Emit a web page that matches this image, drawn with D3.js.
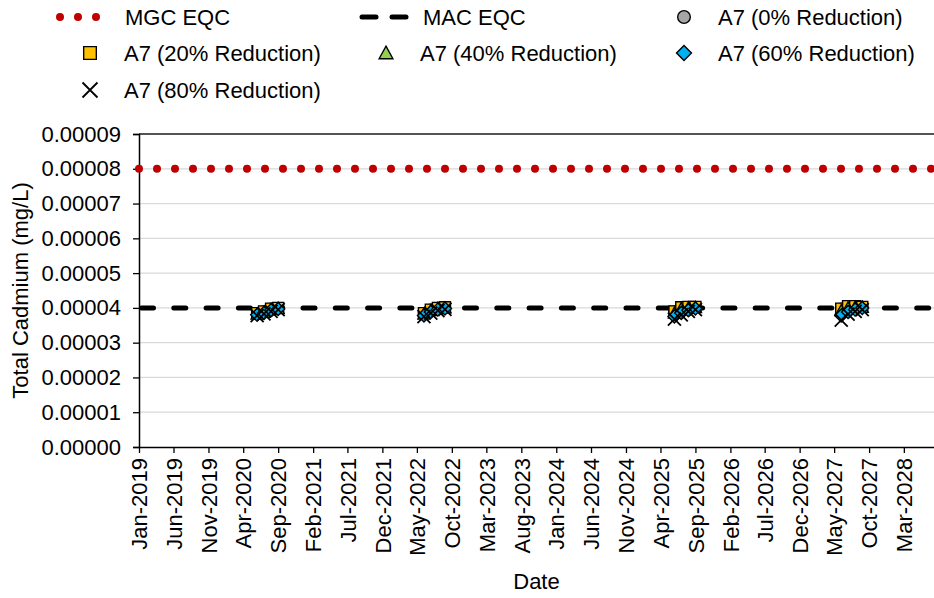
<!DOCTYPE html>
<html><head><meta charset="utf-8">
<script src="https://cdn.jsdelivr.net/npm/d3@7"></script>
<style>
body{margin:0;background:#fff;}
text{font-family:"Liberation Sans",Arial,sans-serif;fill:#000;}
</style></head>
<body><svg id="c" width="934" height="598"></svg>
<script>
// ---- data ----
const sampleDates = [
  "2020-06-01","2020-07-01","2020-08-01","2020-09-01",
  "2022-06-01","2022-07-01","2022-08-01","2022-09-01",
  "2025-06-01","2025-07-01","2025-08-01","2025-09-01",
  "2027-06-01","2027-07-01","2027-08-01","2027-09-01"
];
const red0  = [0.0000385,0.0000390,0.0000398,0.0000400, 0.0000385,0.0000395,0.0000400,0.0000402, 0.0000390,0.0000402,0.0000403,0.0000403, 0.0000398,0.0000405,0.0000405,0.0000403];
const red20 = [0.0000385,0.0000390,0.0000398,0.0000400, 0.0000385,0.0000395,0.0000400,0.0000402, 0.0000390,0.0000402,0.0000403,0.0000403, 0.0000398,0.0000405,0.0000405,0.0000403];
const red40 = [0.0000382,0.0000387,0.0000395,0.0000398, 0.0000382,0.0000392,0.0000398,0.0000400, 0.0000385,0.0000398,0.0000400,0.0000401, 0.0000392,0.0000400,0.0000402,0.0000402];
const red60 = [0.0000380,0.0000385,0.0000393,0.0000397, 0.0000378,0.0000388,0.0000395,0.0000398, 0.0000375,0.0000385,0.0000393,0.0000398, 0.0000378,0.0000388,0.0000395,0.0000400];
const red80 = [0.0000378,0.0000383,0.0000390,0.0000395, 0.0000375,0.0000385,0.0000392,0.0000396, 0.0000368,0.0000380,0.0000390,0.0000395, 0.0000365,0.0000382,0.0000390,0.0000395];
const mgcEqc = 0.00008;
const macEqc = 0.00004;
const yTicks = [0,0.00001,0.00002,0.00003,0.00004,0.00005,0.00006,0.00007,0.00008,0.00009];
const xTickLabels = ["Jan-2019","Jun-2019","Nov-2019","Apr-2020","Sep-2020","Feb-2021","Jul-2021","Dec-2021","May-2022","Oct-2022","Mar-2023","Aug-2023","Jan-2024","Jun-2024","Nov-2024","Apr-2025","Sep-2025","Feb-2026","Jul-2026","Dec-2026","May-2027","Oct-2027","Mar-2028"];
const xDomain = ["2019-01-01","2028-07-11"];
const seriesNames = ["A7 (0% Reduction)","A7 (20% Reduction)","A7 (40% Reduction)","A7 (60% Reduction)","A7 (80% Reduction)"];

// ---- chart ----
const svg = d3.select("#c");
const L=139, R=934, T=134, B=447;
const pd = d3.utcParse("%Y-%m-%d");
const x = d3.scaleUtc().domain(xDomain.map(pd)).range([L,R]);
const y = d3.scaleLinear().domain([0,0.00009]).range([B,T]);
const FS = 22;
const FF = "Liberation Sans, Arial, sans-serif";

// gridlines
svg.append("g").selectAll("line").data(yTicks.slice(1,-1)).join("line")
  .attr("x1",L).attr("x2",R).attr("y1",d=>y(d)).attr("y2",d=>y(d))
  .attr("stroke","#d9d9d9").attr("stroke-width",1.3);
svg.append("line").attr("x1",L).attr("x2",R).attr("y1",y(0.00009)).attr("y2",y(0.00009))
  .attr("stroke","#1a1a1a").attr("stroke-width",1.5);

// y axis
const yAxis = svg.append("g").attr("transform",`translate(${L},0)`)
  .call(d3.axisLeft(y).tickValues(yTicks).tickFormat(d3.format(".5f")).tickSize(6).tickPadding(12));
yAxis.select(".domain").attr("stroke","#000").attr("stroke-width",1.5);
yAxis.selectAll(".tick line").attr("stroke","#000").attr("stroke-width",1.3);
yAxis.selectAll("text").attr("font-size",FS).attr("font-family",FF).attr("fill","#000");

// x axis
const parseTick = d3.utcParse("%b-%Y");
const xTickDates = xTickLabels.map(parseTick);
const xAxis = svg.append("g").attr("transform",`translate(0,${B})`)
  .call(d3.axisBottom(x).tickValues(xTickDates).tickFormat((d,i)=>xTickLabels[i]).tickSize(6).tickSizeOuter(0));
xAxis.select(".domain").attr("stroke","#000").attr("stroke-width",1.5);
xAxis.selectAll(".tick line").attr("stroke","#000").attr("stroke-width",1.3);
xAxis.selectAll("text").attr("font-size",FS).attr("font-family",FF).attr("fill","#000")
  .attr("transform","rotate(-90)").attr("text-anchor","end").attr("dy","0.35em").attr("x",-11).attr("y",0);

// axis titles
svg.append("text").attr("x",(L+R)/2).attr("y",589).attr("text-anchor","middle").attr("font-size",FS).text("Date");
svg.append("text").attr("transform",`translate(28,${(T+B)/2}) rotate(-90)`).attr("text-anchor","middle")
  .attr("font-size",FS).text("Total Cadmium (mg/L)");

// reference lines
svg.append("line").attr("x1",L).attr("x2",R).attr("y1",y(mgcEqc)).attr("y2",y(mgcEqc))
  .attr("stroke","#c00000").attr("stroke-width",8).attr("stroke-linecap","round").attr("stroke-dasharray","0 18");
svg.append("line").attr("x1",L).attr("x2",R).attr("y1",y(macEqc)).attr("y2",y(macEqc))
  .attr("stroke","#000").attr("stroke-width",5).attr("stroke-linecap","round").attr("stroke-dasharray","12 20.3")
  .attr("stroke-dashoffset",-2.5);

// markers (custom Excel-like shapes)
const shapes = {
  circle: "M5.5,0A5.5,5.5,0,1,1,-5.5,0A5.5,5.5,0,1,1,5.5,0Z",
  square: "M-5.5,-5.5H5.5V5.5H-5.5Z",
  triangle: "M0,-6L6,5H-6Z",
  diamond: "M0,-6.5L6.5,0L0,6.5L-6.5,0Z",
  cross: "M-6.5,-6.5L6.5,6.5M6.5,-6.5L-6.5,6.5"
};
const series = [
  {vals:red0, shape:"circle", fill:"#a6a6a6"},
  {vals:red20, shape:"square", fill:"#ffc000"},
  {vals:red40, shape:"triangle", fill:"#92d050"},
  {vals:red60, shape:"diamond", fill:"#00b0f0"},
  {vals:red80, shape:"cross", fill:"none"}
];
series.forEach(s=>{
  svg.append("g").selectAll("path").data(sampleDates.map((d,i)=>({d:pd(d),v:s.vals[i]}))).join("path")
    .attr("transform",p=>`translate(${x(p.d)},${y(p.v)})`)
    .attr("d",shapes[s.shape])
    .attr("fill",s.fill)
    .attr("stroke","#000").attr("stroke-width",s.shape==="cross"?1.8:1.4);
});

// legend
const lg = svg.append("g");
lg.append("line").attr("x1",60).attr("x2",114).attr("y1",17).attr("y2",17)
  .attr("stroke","#c00000").attr("stroke-width",8).attr("stroke-linecap","round").attr("stroke-dasharray","0 18");
lg.append("text").attr("x",125).attr("y",17).attr("dy","0.35em").attr("font-size",FS).text("MGC EQC");
lg.append("line").attr("x1",362).attr("x2",376).attr("y1",17).attr("y2",17).attr("stroke","#000").attr("stroke-width",5).attr("stroke-linecap","round");
lg.append("line").attr("x1",392).attr("x2",406).attr("y1",17).attr("y2",17).attr("stroke","#000").attr("stroke-width",5).attr("stroke-linecap","round");
lg.append("text").attr("x",423).attr("y",17).attr("dy","0.35em").attr("font-size",FS).text("MAC EQC");
const legPos = [[684,17],[90,53],[386,53],[684,53],[90,90]];
series.forEach((s,i)=>{
  const [lx,ly]=legPos[i];
  lg.append("path").attr("transform",`translate(${lx},${ly}) scale(1.15)`).attr("d",shapes[s.shape])
    .attr("fill",s.fill).attr("stroke","#000").attr("stroke-width",s.shape==="cross"?1.6:1.2);
  lg.append("text").attr("x",lx+34).attr("y",ly).attr("dy","0.35em").attr("font-size",FS).text(seriesNames[i]);
});
</script></body></html>
